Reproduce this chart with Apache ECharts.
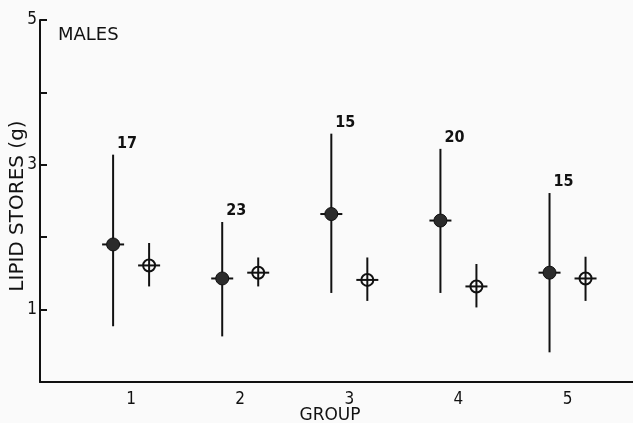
<!DOCTYPE html>
<html>
<head>
<meta charset="utf-8">
<script src="https://cdn.jsdelivr.net/npm/echarts@6/dist/echarts.min.js"></script>
<style>
  html, body { margin: 0; padding: 0; background: #fafafa; }
  #chart { width: 633px; height: 423px; }
</style>
</head>
<body>
<div id="chart"></div>
<script>
// Group numbers on the x axis
var groups = [1, 2, 3, 4, 5];
// Filled markers: mean with range (g)
var solidMean = [1.90, 1.43, 2.32, 2.23, 1.51];
var solidLow  = [0.77, 0.63, 1.23, 1.23, 0.41];
var solidHigh = [3.14, 2.21, 3.43, 3.22, 2.61];
// Open markers: mean with range (g)
var openMean = [1.61, 1.51, 1.41, 1.32, 1.43];
var openLow  = [1.32, 1.32, 1.12, 1.03, 1.12];
var openHigh = [1.92, 1.72, 1.72, 1.63, 1.73];
// Sample size printed above each filled range
var sampleSizes = [17, 23, 15, 20, 15];
// Y tick labels shown (odd values only)
var yTickLabels = [1, 3, 5];

var SHIFT = 0.165; // horizontal offset of each marker from its group centre
var FONT = '"DejaVu Sans Condensed", "DejaVu Sans", sans-serif';
var WIDE = '"DejaVu Sans", sans-serif';
var INK = '#111';

var solidData = groups.map(function (g, i) {
  return [g - SHIFT, solidMean[i], solidLow[i], solidHigh[i], sampleSizes[i]];
});
var openData = groups.map(function (g, i) {
  return [g + SHIFT, openMean[i], openLow[i], openHigh[i]];
});

function makeRender(filled) {
  return function (params, api) {
    var x = api.value(0);
    var mid = api.coord([x, api.value(1)]);
    var lo = api.coord([x, api.value(2)]);
    var hi = api.coord([x, api.value(3)]);
    var line = { stroke: INK, lineWidth: 2 };
    var bar = { type: 'line', shape: { x1: lo[0], y1: lo[1], x2: hi[0], y2: hi[1] }, style: line };
    var cross = { type: 'line', shape: { x1: mid[0] - 11, y1: mid[1], x2: mid[0] + 11, y2: mid[1] }, style: line };
    var children;
    if (filled) {
      children = [bar, cross,
        { type: 'circle', shape: { cx: mid[0], cy: mid[1], r: 6.5 },
          style: { fill: '#2b2b2b', stroke: INK, lineWidth: 1 } },
        { type: 'text', style: {
            text: String(api.value(4)), x: hi[0] + 4, y: hi[1] - 3,
            align: 'left', verticalAlign: 'bottom',
            font: 'bold 16px ' + FONT, fill: INK } }
      ];
    } else {
      children = [
        { type: 'circle', shape: { cx: mid[0], cy: mid[1], r: 6 },
          style: { fill: '#fafafa', stroke: INK, lineWidth: 2 } },
        bar, cross
      ];
    }
    return { type: 'group', children: children };
  };
}

var chart = echarts.init(document.getElementById('chart'), null, { renderer: 'canvas' });
chart.setOption({
  backgroundColor: '#fafafa',
  animation: false,
  grid: { left: 40, right: 0, top: 20, bottom: 41, containLabel: false, outerBoundsMode: 'none' },
  graphic: [
    { type: 'text', left: 58, top: 26,
      style: { text: 'MALES', font: '18px ' + WIDE, fill: INK } },
    // axis titles
    { type: 'text', x: 18, y: 206, rotation: Math.PI / 2,
      style: { text: 'LIPID STORES (g)', font: '20px ' + WIDE, fill: INK,
               align: 'center', verticalAlign: 'middle' } },
    { type: 'text', x: 330, y: 416,
      style: { text: 'GROUP', font: '17px ' + WIDE, fill: INK,
               align: 'center', verticalAlign: 'middle' } }
  ],
  xAxis: {
    type: 'value', min: 0.165, max: 5.6,
    axisLine: { show: true, lineStyle: { color: INK, width: 2 } },
    axisTick: { show: false },
    splitLine: { show: false },
    axisLabel: { customValues: groups, color: INK, fontSize: 17, margin: 9, fontFamily: FONT }
  },
  yAxis: {
    type: 'value', min: 0, max: 5, interval: 1,
    axisLine: { show: true, lineStyle: { color: INK, width: 2 } },
    axisTick: { show: true, inside: true, length: 7, lineStyle: { color: INK, width: 2 } },
    splitLine: { show: false },
    axisLabel: {
      color: INK, fontSize: 17, margin: 3, fontFamily: FONT,
      formatter: function (v) { return yTickLabels.indexOf(v) >= 0 ? String(v) : ''; }
    }
  },
  series: [
    { type: 'custom', name: 'solid', renderItem: makeRender(true), data: solidData,
      encode: { x: 0, y: [1, 2, 3] }, z: 3 },
    { type: 'custom', name: 'open', renderItem: makeRender(false), data: openData,
      encode: { x: 0, y: [1, 2, 3] }, z: 3 }
  ]
});
</script>
</body>
</html>
